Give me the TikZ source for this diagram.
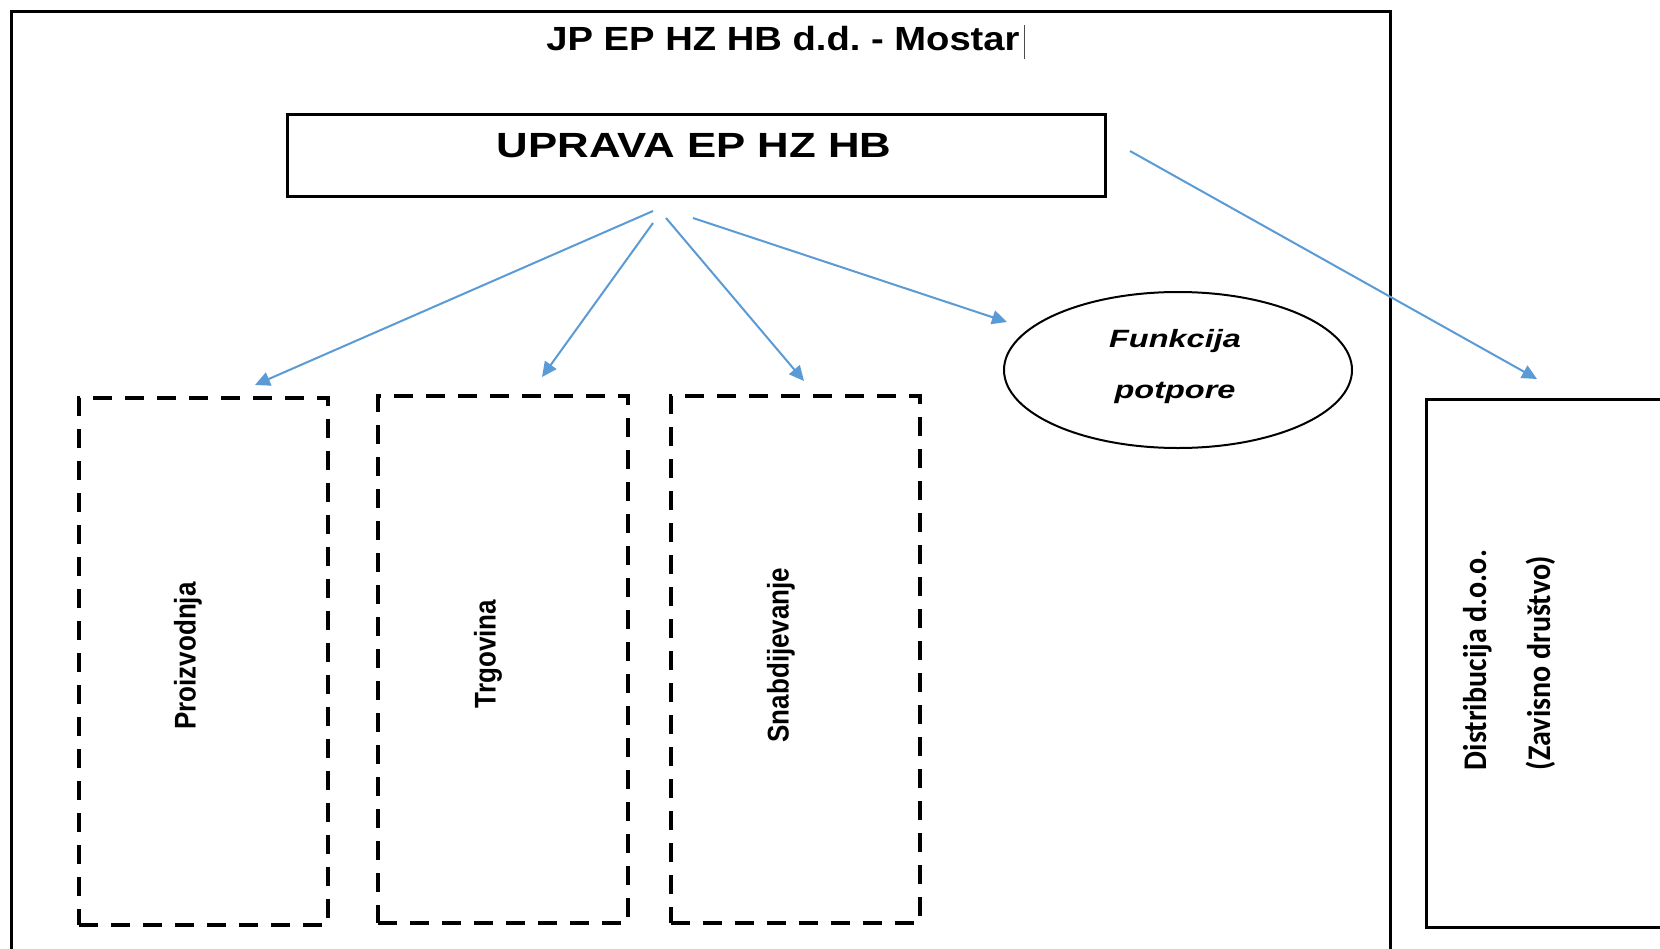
\documentclass[tikz,border=0pt]{standalone}
\usepackage{fontspec}
\setmainfont{Liberation Sans}
\newfontfamily\calfont{Carlito}
\usetikzlibrary{arrows.meta,shapes.geometric}
\definecolor{arrowblue}{HTML}{5B9BD5}
\tikzset{
  solidbox/.style={draw=black, line width=1.5pt, inner sep=0pt, anchor=north west},
  dashbox/.style={draw=black, line width=1.8pt, dash pattern=on 9.5pt off 6.5pt, inner sep=0pt, anchor=north west},
  conn/.style={draw=arrowblue, line width=1pt, -{Triangle[length=7.5pt,width=7pt]}},
  vlabel/.style={rotate=90, font=\bfseries\fontsize{13}{15}\selectfont, inner sep=0pt},
  htext/.style={inner sep=0pt, anchor=base},
}
\frenchspacing
\begin{document}
\frenchspacing
\begin{tikzpicture}[x=0.5pt,y=-0.5pt]
\useasboundingbox (0,0) rectangle (1660,948);
\clip (0,0) rectangle (1660,948);
\fill[white] (0,0) rectangle (1660,948);
% outer frame
\node[solidbox, minimum width=689.5pt, minimum height=480pt] (outer) at (10,10) {};
\node[htext, font=\bfseries\fontsize{16.75}{20}\selectfont] (title) at (783,50) {\scalebox{1.14}[1]{JP EP HZ HB d.d. - Mostar}};
\draw[line width=0.5pt, black!70] (1024,25) -- (1024,59);
% management
\node[solidbox, minimum width=409pt, minimum height=41pt] (upr) at (286,113) {};
\node[htext, font=\bfseries\fontsize{17.5}{21}\selectfont] (uprt) at (694,157) {\scalebox{1.25}[1]{UPRAVA EP HZ HB}};
% dashed boxes
\node[dashbox, minimum width=124.5pt, minimum height=263.5pt] (b1) at (77,396) {};
\node[dashbox, minimum width=125pt, minimum height=263.5pt] (b2) at (376,394) {};
\node[dashbox, minimum width=124.5pt, minimum height=263.5pt] (b3) at (669,394) {};
\node[vlabel] (b1t) at (188,656) {\scalebox{1}[1.15]{Proizvodnja}};
\node[vlabel] (b2t) at (488,654) {\scalebox{1}[1.15]{Trgovina}};
\node[vlabel] (b3t) at (781,655) {\scalebox{1}[1.15]{Snabdijevanje}};
% support ellipse
\node[ellipse, draw=black, line width=1pt, minimum width=174pt, minimum height=78pt, inner sep=0pt] (fp) at (1178,370) {};
\node[htext, font=\bfseries\itshape\fontsize{12.5}{15}\selectfont] (fp1) at (1175,347) {\scalebox{1.3}[1]{Funkcija}};
\node[htext, font=\bfseries\itshape\fontsize{12.5}{15}\selectfont] (fp2) at (1175,398) {\scalebox{1.3}[1]{potpore}};
% subsidiary
\node[solidbox, minimum width=130pt, minimum height=264pt] (dist) at (1425,398) {};
\node[rotate=90, inner sep=0pt, font=\calfont\bfseries\fontsize{15}{31}\selectfont] (distt) at (1505,660) {\scalebox{1}[1.1]{\begin{tabular}{@{}l@{}}Distribucija d.o.o.\\[-2pt](Zavisno društvo)\end{tabular}}};
% connectors
\coordinate (s1) at (653,211); \coordinate (t1) at (255,385);
\coordinate (s2) at (653,223); \coordinate (t2) at (542,377);
\coordinate (s3) at (666,218); \coordinate (t3) at (804,381);
\coordinate (s4) at (693,218); \coordinate (t4) at (1007,322);
\coordinate (s5) at (1130,151); \coordinate (t5) at (1537,379);
\draw[conn] (s1) -- (t1);
\draw[conn] (s2) -- (t2);
\draw[conn] (s3) -- (t3);
\draw[conn] (s4) -- (t4);
\draw[conn] (s5) -- (t5);
\end{tikzpicture}
\end{document}
